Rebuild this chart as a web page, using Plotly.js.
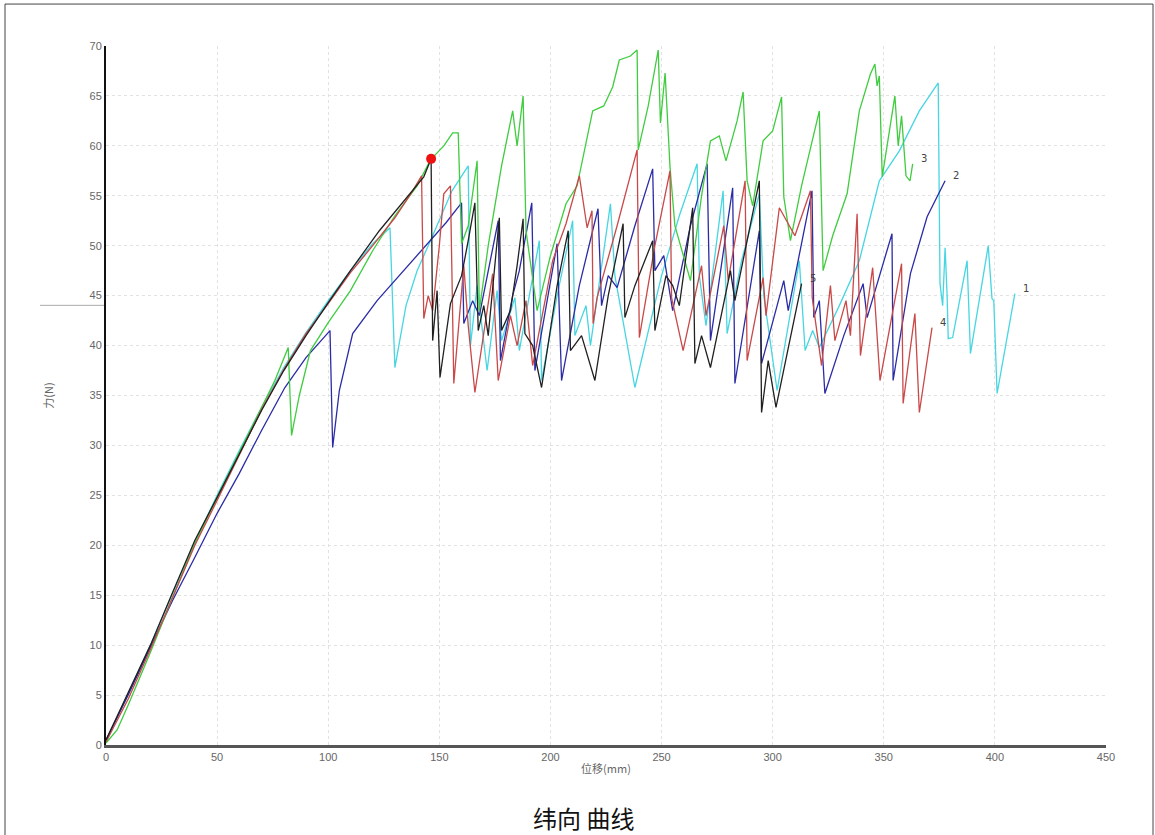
<!DOCTYPE html>
<html>
<head>
<meta charset="utf-8">
<script src="https://cdn.plot.ly/plotly-3.0.1.min.js"></script>
<style>html,body{margin:0;padding:0;background:#fff;}#chart{width:1155px;height:835px;}</style>
</head>
<body>
<div id="chart"></div>
<script>
// Series 1 (cyan)
const s1x = [0,10,20,30,40,50,60,70,80,90,100,110,120,127.8,130,135,140,146,150,155.7,163,164,167,171.5,176,178,184,186,195,196,203,210,211,216,218,227,229,238,250,258,266,267,270,277.7,279.5,286,294,296,302,312,314.6,318,321,330,339,348,357,366,374.5,375.3,376.5,377.6,378.5,379,381,387.5,389,397,398.7,399.5,401,409];
const s1y = [0.3,5.2,10,15.2,20.3,25,29.5,33.8,37.8,41.3,44.5,47.5,50.2,51.8,37.8,44,47.5,50.5,52.5,55.5,58,40,46,37.5,45.5,40.5,44.8,39.5,50.5,36.5,45,52.5,41,44,40,54.2,47,35.8,47,53,58.2,47,42,55.5,41.2,48.5,55.2,45,35.5,48.5,39.5,41.5,39.8,44,48.5,56.5,59.5,63.5,66.3,46.2,44,49.8,45,40.7,40.8,48.5,39.2,50,44.7,44.5,35.2,45.2];
// Series 2 (blue)
const s2x = [0,10,20,30,40,50,60,70,80.5,90,100.8,102,105,111,122,135,146,153,160,161,165,168,176.5,177.5,183,186,191.6,193,203,205,213,221.4,223,226,230,238,246,247,251,255,263,270.5,272,282,283,294,295,305,307,317.7,318.5,321,323.5,332,340.7,342.5,353.7,354.2,362,369.5,377.6];
const s2y = [0.5,5,9.8,14.5,18.8,23.2,27.2,31.5,35.8,38.8,41.5,29.8,35.5,41.2,44.5,47.8,50.5,52.3,54.3,42.2,44.5,43,52.5,38.5,45,47.5,54.3,37.5,50.2,36.5,46,53.7,44,47,45.8,52,57.7,47.5,49,43.5,52,58.2,40.5,55.8,36.2,51.5,38.2,46.5,43.5,55.5,42.8,44.5,35.2,41,46.2,42.8,51.2,36.5,47.2,52.9,56.5];
// Series 3 (green)
const s3x = [0,5,10,20,30,40,50,60,70,76,82,83.5,87,92,100,110,120,130,140,146,152,156,158.5,160,163,167,168,172,178,183,185,187.7,189,194,200,207,212,219,224,228,231,236,239,239.5,244,248.5,249.5,251.6,253.8,256,263,268,272,276,279,284,286.7,288.5,291,295.7,300,304,305,308,313,321,322.7,327,333.5,339,344,346,347,348,349.3,355,356.5,358,360,361.8,363];
const s3y = [0.2,1.5,4,9.3,14.8,20.2,24.8,29.3,33.8,36.5,39.8,31,35,39.5,42.3,45.5,49.5,53,56,58.6,60,61.3,61.3,50.2,52,58.5,43.5,50,58,63.5,60,65,51.5,43.5,49,54.2,56,63.5,64,65.9,68.6,69,69.6,59.6,64,69.6,62.3,67.3,57.9,52,46.5,55,60.5,61,58.5,62.5,65.4,56.5,54,60.5,61.5,64.9,54.9,50.5,56,63.5,47.5,51,55.2,63.5,67.2,68.2,66,67,56.9,65,60,63,57,56.5,58.2];
// Series 4 (red)
const s4x = [0,10,20,30,40,50,60,67,70,80,90,100,110,120,130,138,142,143,145,147,150,152,155,156.5,161,163,166,174,176.5,182,185,189,192,201,207,213,216.5,218.7,219.2,221,230,239,240,247,253.8,254.5,259.7,268,270,278,280,287.6,288.5,295.7,297,303,310,317,317.8,322,326,328,333,335,338,339.5,345,348.3,358,358.7,364,366,371.7];
const s4y = [0.3,4.6,9.6,14.8,20,24.5,29,32.3,33.6,37.6,41.2,44.2,47.3,50,52.8,55.5,57,42.7,45,43.5,50,55.2,56,36.2,48,42,35.3,47.2,36.5,43,40,44.5,38,48.5,52.2,57,51.8,53.5,42.2,44.8,52,59.6,40.8,50,57.5,44.8,39.5,48,43,52,46.5,56.5,38.5,46.8,43,53.8,51,55.5,44.8,38,46,40.5,44.5,41,53.2,39,47.8,36.5,48.2,34.2,43.2,33.3,41.8];
// Series 5 (black)
const s5x = [0,10,20,30,40,50,60,70,80,90,100,110,123,135,143,146.3,147,149,150.3,155,160,163,166,167.5,170,172,177,178,182,185,187.7,188.5,192,196,203,208,209,214,220,226,232.7,233.5,238,246,247,252,255,258,264,265,268,272,281,283,294,295,298,301.5,313];
const s5y = [0.5,5.2,10,15.3,20.5,24.8,29.2,33.5,37.5,41,44.3,47.5,51.5,54.8,56.9,58.7,40.5,45.5,36.8,44.2,47,50.5,54.3,41.5,44,41,52.8,41.5,43.5,48,52.7,41.2,40,35.8,46,51.5,39.5,41,36.5,45,52.2,42.8,46,50.5,41.5,47,46,44,53.8,38.2,41,37.8,47.5,44.5,56.5,33.3,38.5,33.8,46.2];
// Break point marker
const breakX = [146.3];
const breakY = [58.7];
const seriesNames = ["1","2","3","4","5"];
const seriesColors = ["#46d6e2","#2b2ba6","#3fcc3f","#c94848","#202020"];
const xTicks = [0,50,100,150,200,250,300,350,400,450];
const yTicks = [0,5,10,15,20,25,30,35,40,45,50,55,60,65,70];

const xs = [s1x,s2x,s3x,s4x,s5x];
const ys = [s1y,s2y,s3y,s4y,s5y];
const drawOrder = [0,1,2,3,4];
const traces = drawOrder.map(i => ({
  x: xs[i], y: ys[i], type: 'scatter', mode: 'lines', name: seriesNames[i],
  line: {color: seriesColors[i], width: 1.3}, hoverinfo: 'x+y'
}));
traces.push({x: breakX, y: breakY, type: 'scatter', mode: 'markers',
  marker: {color: '#ee1111', size: 10}, showlegend: false});

const annotations = xs.map((arr, i) => ({
  x: arr[arr.length-1], y: ys[i][ys[i].length-1], xref: 'x', yref: 'y',
  text: seriesNames[i], showarrow: false, xanchor: 'left', yanchor: 'bottom',
  xshift: 6, yshift: -2, font: {family: 'DejaVu Sans, sans-serif', size: 10, color: '#444'}
}));
annotations.push({
  x: 0.477, y: -0.104, xref: 'paper', yref: 'paper', text: '纬向 曲线', showarrow: false,
  xanchor: 'center', yanchor: 'middle', font: {family: 'Noto Sans CJK SC', size: 24, color: '#111'}
});

const layout = {
  width: 1155, height: 835,
  margin: {l: 106, r: 49, t: 46, b: 90},
  paper_bgcolor: '#fff', plot_bgcolor: '#fff',
  showlegend: false,
  xaxis: {
    range: [0, 450], tickvals: xTicks, ticktext: xTicks.map(String),
    showgrid: true, gridcolor: '#e2e2e2', griddash: '3px,3px', gridwidth: 1,
    zeroline: false, showline: true, linecolor: '#555', linewidth: 3,
    ticks: '', tickfont: {family: 'Liberation Sans, Arial, sans-serif', size: 11, color: '#666'},
    title: {text: '位移(mm)', font: {family: 'Noto Sans CJK SC', size: 11, color: '#666'}, standoff: 4}
  },
  yaxis: {
    range: [0, 70], tickvals: yTicks, ticktext: yTicks.map(String),
    showgrid: true, gridcolor: '#e2e2e2', griddash: '3px,3px', gridwidth: 1,
    zeroline: false, showline: true, linecolor: '#111', linewidth: 2,
    ticks: '', tickfont: {family: 'Liberation Sans, Arial, sans-serif', size: 11, color: '#666'},
    title: {text: '力(N)', font: {family: 'Noto Sans CJK SC', size: 11, color: '#666'}, standoff: 34}
  },
  annotations: annotations,
  shapes: [
    {type: 'rect', xref: 'paper', yref: 'paper', x0: -0.101, x1: 1.047, y0: -0.13, y1: 1.060,
     line: {color: '#444', width: 1}, fillcolor: 'rgba(0,0,0,0)'},
    {type: 'line', xref: 'paper', yref: 'paper', x0: -0.066, x1: -0.002, y0: 0.629, y1: 0.629,
     line: {color: '#aaa', width: 1}}
  ]
};

Plotly.newPlot('chart', traces, layout, {displayModeBar: false, staticPlot: true});
</script>
</body>
</html>
